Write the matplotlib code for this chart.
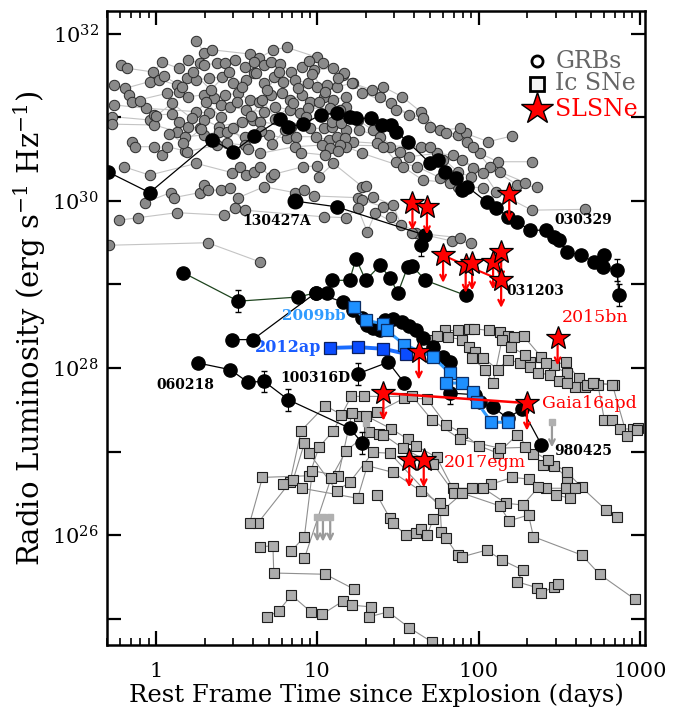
import numpy as np
import matplotlib.pyplot as plt
from matplotlib.ticker import FixedLocator, FuncFormatter, NullLocator, NullFormatter, LogLocator

plt.rcParams['font.family'] = ['DejaVu Serif']
plt.rcParams['mathtext.fontset'] = 'dejavuserif'

# ---- data (log10 of rest-frame days, log10 of L_nu in erg/s/Hz) ----
# background GRB light curves (grey circles)
grb_bg_logt = [
    [0.25, 0.30, 0.35, 0.58, 0.64, 0.725, 0.81, 1.0, 1.035, 1.16, 1.28, 1.46, 1.57, 1.70, 1.87, 1.92, 2.06, 2.21],
    [-0.22, -0.18, -0.02, 0.04, 0.14, 0.20, 0.27, 0.30, 0.38, 0.43, 0.49, 0.55, 0.61, 0.67, 0.71, 0.77, 0.84, 0.905,
     0.95, 0.98, 1.10, 1.165, 1.22, 1.34, 1.41, 1.525, 1.64, 1.76, 1.885, 1.93, 2.01, 2.12, 2.33],
    [-0.26, -0.19, -0.04, 0.02, 0.13, 0.19, 0.25, 0.33, 0.41, 0.48, 0.56, 0.61, 0.67, 0.73, 0.79, 0.86, 0.94, 1.0,
     1.06, 1.12, 1.215, 1.39, 1.49, 1.655, 1.80, 1.965, 2.07, 2.24, 2.36],
    [-0.17, -0.15, 0.07, 0.14, 0.20, 0.30, 0.36, 0.43, 0.51, 0.58, 0.64, 0.71, 0.78, 0.83, 0.905, 0.955, 1.04, 1.10,
     1.18, 1.18, 1.25, 1.345, 1.45, 1.57, 1.74, 1.84, 1.965, 2.13, 2.29],
    [-0.26, -0.06, 0.25, 0.33, 0.40, 0.46, 0.56, 0.67, 0.74, 0.83, 0.89, 0.94, 1.08, 1.14, 1.26, 1.39, 1.51, 1.64,
     1.78, 1.90, 2.03, 2.11, 2.33, 2.66],
    [-0.27, -0.04, -0.01, 0.10, 0.14, 0.20, 0.27, 0.30, 0.39, 0.53, 0.60, 0.645, 0.84, 0.955, 1.04, 1.09, 1.18, 1.22,
     1.37, 1.41, 1.49, 1.62, 1.76, 1.87, 2.03],
    [-0.27, -0.01, 0.13, 0.18, 0.30, 0.39, 0.44, 0.55, 0.70, 0.81, 0.87, 0.99, 1.07, 1.12, 1.17, 1.18, 1.28, 1.53,
     1.655, 1.82],
    [-0.15, -0.13, -0.01, 0.04, 0.07, 0.18, 0.19, 0.38, 0.44, 0.55, 0.645, 0.86, 1.03, 1.08, 1.14, 1.70, 1.87, 1.95],
    [-0.20, -0.04, 0.25, 0.47, 0.52, 0.56, 0.61, 0.645, 0.71, 0.73, 0.91, 1.0, 1.01, 1.10, 1.28, 1.30, 1.345, 1.47, 1.52],
    [-0.07, 0.09, 0.11, 0.27, 0.30, 0.32, 0.40, 0.46, 0.51, 0.67, 0.86, 0.92, 0.98, 1.25, 1.28, 1.41, 1.46, 1.61,
     1.835, 1.95],
    [-0.23, -0.11, 0.13, 0.42, 0.49, 0.55, 1.04, 1.18, 1.25, 1.31, 1.36, 1.59, 1.885],
    [-0.29, 0.32, 0.645],
    [0.05, 0.16, 0.23, 0.34, 0.45, 0.53, 0.62, 0.69, 0.76, 0.88, 0.97, 1.05, 1.13],
    [-0.10, 0.0, 0.10, 0.22, 0.31, 0.40, 0.50, 0.59, 0.66, 0.74, 0.85, 0.93, 1.01, 1.09, 1.15],
    [0.08, 0.17, 0.28, 0.36, 0.48, 0.57, 0.65, 0.72, 0.80, 0.90, 1.05, 1.13],
]
grb_bg_logL = [
    [31.92, 31.77, 31.81, 31.76, 31.71, 31.81, 31.84, 31.72, 31.65, 31.51, 31.29, 31.17, 31.03, 30.89, 30.79, 30.81, 30.71, 30.78],
    [31.63, 31.59, 31.545, 31.66, 31.59, 31.69, 31.65, 31.63, 31.65, 31.65, 31.69, 31.60, 31.66, 31.63, 31.66, 31.64, 31.545, 31.60,
     31.68, 31.57, 31.59, 31.53, 31.41, 31.33, 31.365, 31.25, 31.07, 30.85, 30.87, 30.71, 30.57, 30.47, 30.47],
    [31.39, 31.35, 31.43, 31.45, 31.39, 31.47, 31.45, 31.47, 31.485, 31.41, 31.45, 31.53, 31.41, 31.485, 31.43, 31.45, 31.41, 31.365,
     31.39, 31.365, 31.41, 31.25, 31.09, 30.99, 30.81, 30.65, 30.41, 30.19, 30.17],
    [31.27, 31.19, 31.29, 31.31, 31.25, 31.27, 31.23, 31.27, 31.29, 31.21, 31.19, 31.27, 31.29, 31.21, 31.27, 31.19, 31.25, 31.21,
     31.25, 31.13, 30.97, 30.85, 30.65, 30.53, 30.57, 30.55, 30.40, 30.35, 30.22],
    [31.15, 31.11, 31.07, 31.05, 31.15, 31.13, 31.09, 31.07, 31.13, 31.09, 31.05, 31.11, 31.11, 31.09, 30.85, 30.77, 30.59, 30.65,
     30.49, 30.49, 30.34, 30.11, 29.89, 29.90],
    [31.01, 30.97, 31.03, 31.04, 30.95, 30.89, 30.87, 30.97, 30.89, 30.95, 30.97, 30.95, 30.89, 30.87, 30.87, 30.89, 30.85, 30.71,
     30.69, 30.65, 30.47, 30.41, 30.28, 30.17, 30.16],
    [30.92, 30.91, 30.83, 30.77, 30.79, 30.83, 30.83, 30.77, 30.79, 30.75, 30.77, 30.77, 30.73, 30.77, 30.75, 30.65, 30.57, 30.41,
     30.25, 30.22],
    [30.71, 30.65, 30.65, 30.55, 30.65, 30.60, 30.59, 30.67, 30.69, 30.67, 30.57, 30.65, 30.67, 30.63, 30.67, 30.65, 30.35, 30.29],
    [30.41, 30.31, 30.45, 30.34, 30.41, 30.31, 30.35, 30.41, 30.29, 30.32, 30.41, 30.42, 30.29, 30.45, 30.17, 30.18, 30.05, 29.95, 29.71],
    [29.98, 30.10, 30.04, 30.10, 30.19, 30.13, 30.13, 30.16, 30.04, 30.17, 30.10, 30.13, 30.06, 30.04, 30.01, 29.93, 29.81, 29.62,
     29.52, 29.50],
    [29.77, 29.80, 29.86, 29.83, 29.92, 29.89, 29.81, 29.80, 29.92, 29.63, 29.86, 29.62, 29.56],
    [29.47, 29.50, 29.27],
    [31.50, 31.36, 31.54, 31.33, 31.55, 31.36, 31.53, 31.33, 31.55, 31.35, 31.52, 31.30, 31.47],
    [31.20, 31.02, 31.17, 30.99, 31.19, 31.00, 31.18, 31.02, 31.21, 30.98, 31.17, 31.00, 31.18, 30.95, 30.93],
    [30.80, 30.70, 30.86, 30.72, 30.87, 30.62, 30.84, 30.68, 30.85, 30.58, 30.55, 30.60],
]

# named GRBs (black circles)
grb030329_logt = [-0.30, -0.04, 0.35, 0.48, 0.61, 0.77, 0.82, 0.91, 1.02, 1.12, 1.20, 1.24, 1.33, 1.40, 1.46, 1.49, 1.56,
                  1.70, 1.75, 1.79, 1.86, 1.90, 1.93, 2.05, 2.11, 2.18, 2.24, 2.32, 2.42, 2.47, 2.50, 2.55, 2.635, 2.715,
                  2.78, 2.77, 2.86, 2.87]
grb030329_logL = [30.35, 30.10, 30.73, 30.59, 30.78, 30.98, 30.89, 30.92, 31.03, 31.05, 31.01, 30.99, 30.99, 30.91, 30.91,
                  30.83, 30.71, 30.45, 30.49, 30.35, 30.28, 30.13, 30.17, 29.99, 29.92, 29.81, 29.75, 29.65, 29.65, 29.57,
                  29.53, 29.39, 29.35, 29.27, 29.35, 29.21, 29.17, 28.87]
grb130427A_logt = [0.86, 1.12, 1.67, 1.64]
grb130427A_logL = [30.0, 29.93, 29.59, 29.47]
grb031203_logt = [0.17, 0.51, 0.88, 0.99, 1.06, 1.09, 1.20, 1.24, 1.30, 1.39, 1.45, 1.50, 1.56, 1.59, 1.67, 1.92]
grb031203_logL = [29.14, 28.80, 28.85, 28.90, 28.90, 29.05, 29.05, 29.31, 29.05, 29.23, 29.08, 28.90, 29.21, 29.22, 29.05, 28.87]
grb980425_logt = [0.47, 0.60, 0.99, 1.16, 1.22, 1.28, 1.31, 1.345, 1.39, 1.42, 1.47, 1.525, 1.57, 1.61, 1.655, 1.72, 1.78,
                  1.82, 1.82, 1.98, 2.01, 2.09, 2.18, 2.27, 2.39]
grb980425_logL = [28.34, 28.34, 28.90, 28.79, 28.69, 28.60, 28.52, 28.48, 28.45, 28.57, 28.59, 28.55, 28.50, 28.45, 28.36,
                  28.25, 28.13, 28.07, 27.70, 27.68, 27.59, 27.53, 27.40, 27.51, 27.08]
grb060218_logt = [0.26, 0.46, 0.57, 0.67, 0.82, 1.20, 1.28]
grb060218_logL = [28.06, 27.98, 27.83, 27.84, 27.62, 27.28, 27.10]
grb100316D_logt = [1.25, 1.44, 1.54]
grb100316D_logL = [27.93, 28.07, 27.82]

# relativistic Ic SNe
sn2009bb_logt = [1.23, 1.30, 1.41, 1.43, 1.54, 1.72, 1.82, 1.80, 1.90, 1.965, 1.99, 2.08, 2.18]
sn2009bb_logL = [28.73, 28.57, 28.53, 28.45, 28.28, 28.13, 27.94, 27.82, 27.82, 27.71, 27.59, 27.35, 27.35]
sn2012ap_logt = [1.08, 1.25, 1.41, 1.55]
sn2012ap_logL = [28.24, 28.25, 28.23, 28.17]

# ordinary Ic SNe (grey squares)
ic_logt = [
    [0.63, 0.83, 0.90, 1.05, 1.15, 1.26, 1.37, 1.54, 1.68, 1.80, 1.90, 2.0, 2.12, 2.24, 2.34, 2.40, 2.47, 2.55],
    [0.58, 0.66, 0.95, 1.01, 1.10, 1.21, 1.29, 1.59, 1.71, 1.885, 2.13, 2.29, 2.43, 2.55, 2.64, 2.79, 2.86],
    [0.84, 0.92, 0.97, 1.13, 1.215, 1.30, 1.46, 1.56, 1.61, 1.74, 1.84, 1.96, 2.08, 2.21, 2.31, 2.42, 2.54, 2.60],
    [0.92, 1.085, 1.18, 1.32, 1.38, 1.41, 1.53, 1.72, 1.85, 2.03, 2.17, 2.275, 2.37, 2.48, 2.57],
    [0.79, 0.85, 0.92, 0.95, 1.12, 1.20, 1.345, 1.45, 1.78, 1.90, 2.13, 2.19, 2.31, 2.34, 2.64, 2.75, 2.97],
    [0.905, 1.25, 1.31, 1.47, 1.64, 1.76, 1.77, 1.80, 1.87, 1.90, 2.05, 2.145, 2.275, 2.24, 2.36, 2.39, 2.47, 2.49],
    [0.645, 0.725, 0.73, 1.05, 1.23],
    [0.69, 0.76, 0.84, 0.96, 1.03, 1.16, 1.215, 1.33, 1.32, 1.44, 1.57, 1.71],
    [1.37, 1.45, 1.47, 1.55, 1.61, 1.64, 1.68, 1.72],
    [1.72, 1.79, 1.87, 1.94, 1.97, 2.065, 2.13, 2.18, 2.22, 2.28, 2.39, 2.47, 2.54, 2.62, 2.715, 2.84],
    [1.74, 1.81, 1.90, 1.94, 1.98, 2.03, 2.12, 2.18, 2.26, 2.32, 2.42, 2.55, 2.60, 2.66, 2.74, 2.78, 2.83, 2.88, 2.96, 2.99],
    [1.96, 2.04, 2.09, 2.145, 2.20, 2.29, 2.32, 2.37, 2.44, 2.50, 2.55, 2.67, 2.71, 2.83, 2.92, 2.98],
]
ic_logL = [
    [26.14, 26.63, 27.25, 27.55, 27.44, 27.43, 27.47, 27.64, 27.63, 27.32, 27.22, 27.07, 26.98, 27.20, 26.97, 26.84, 26.83, 26.68],
    [26.14, 26.69, 26.71, 27.05, 27.25, 27.66, 27.66, 27.66, 27.38, 27.15, 27.04, 27.05, 26.90, 26.75, 26.57, 26.30, 26.22],
    [25.81, 25.98, 26.77, 26.71, 27.46, 27.43, 27.27, 27.15, 27.07, 26.93, 26.56, 26.56, 26.61, 26.69, 26.67, 26.56, 26.56, 26.56],
    [25.72, 26.68, 27.01, 27.23, 27.21, 27.20, 27.04, 26.85, 26.50, 26.56, 26.38, 26.36, 26.57, 26.48, 26.44],
    [26.61, 26.66, 27.10, 26.98, 26.53, 26.63, 26.99, 26.98, 26.30, 26.50, 26.35, 26.17, 26.24, 25.98, 25.76, 25.53, 25.23],
    [26.56, 26.44, 26.83, 26.75, 26.53, 26.38, 26.04, 25.96, 25.76, 25.74, 25.82, 25.70, 25.58, 25.44, 25.37, 25.31, 25.38, 25.41],
    [25.86, 25.87, 25.545, 25.53, 25.35],
    [25.02, 25.09, 25.28, 25.08, 25.05, 25.21, 25.16, 25.14, 25.02, 25.08, 24.89, 24.72],
    [26.48, 26.20, 26.14, 26.0, 26.02, 26.07, 26.0, 26.19],
    [28.34, 28.45, 28.45, 28.47, 28.47, 28.45, 28.43, 28.38, 28.37, 28.38, 28.13, 28.04, 28.07, 27.88, 27.82, 27.80],
    [28.38, 28.37, 28.34, 28.25, 28.19, 28.12, 27.98, 28.10, 28.06, 28.07, 28.06, 27.94, 27.77, 27.77, 27.80, 27.38, 27.38,
     27.27, 27.27, 27.28],
    [28.12, 27.98, 27.82, 28.34, 28.25, 28.16, 28.01, 27.94, 27.92, 27.84, 27.82, 27.80, 27.82, 27.80, 27.19, 27.26],
]
ic_ul_logt = [1.30, 1.0, 1.035, 1.08, 2.455]
ic_ul_logL = [27.34, 26.22, 26.22, 26.22, 27.35]

# SLSNe upper limits (red stars)
slsn_logt = [1.59, 1.68, 2.19, 1.78, 1.92, 1.96, 2.09, 2.14, 2.14, 2.49, 1.63, 1.41, 2.30, 1.57, 1.66]
slsn_logL = [29.98, 29.93, 30.08, 29.35, 29.23, 29.26, 29.27, 29.39, 29.05, 28.36, 28.19, 27.70, 27.58, 26.90, 26.90]
slsn_track_logt = [1.78, 1.92, 2.14]
slsn_track_logL = [29.35, 29.23, 29.05]
gaia16apd_logt = [1.41, 2.30]
gaia16apd_logL = [27.70, 27.58]


def lin(a):
    return 10 ** np.asarray(a, dtype=float)


fig = plt.figure(figsize=(6.85, 7.13), dpi=100)
ax = fig.add_axes([107 / 685, 68 / 713, 538 / 685, 634 / 713])
ax.set_xscale('log')
ax.set_yscale('log')

# grey GRB cloud
for lt, lL in zip(grb_bg_logt, grb_bg_logL):
    ax.plot(lin(lt), lin(lL), '-', color='#c4c4c4', lw=0.8, zorder=1)
for lt, lL in zip(grb_bg_logt, grb_bg_logL):
    ax.plot(lin(lt), lin(lL), 'o', ls='none', ms=7.5, mfc='#8a8a8a', mec='#2a2a2a', mew=0.7, zorder=2)

# Ic SNe
for lt, lL in zip(ic_logt, ic_logL):
    ax.plot(lin(lt), lin(lL), '-', color='#8f8f8f', lw=0.8, zorder=1)
for lt, lL in zip(ic_logt, ic_logL):
    ax.plot(lin(lt), lin(lL), 's', ls='none', ms=6.8, mfc='#acacac', mec='#1e1e1e', mew=0.8, zorder=2)
for t, L in zip(lin(ic_ul_logt), lin(ic_ul_logL)):
    ax.annotate('', xy=(t, L * 10 ** -0.3), xytext=(t, L),
                arrowprops=dict(arrowstyle='->', color='#9a9a9a', lw=1.6, shrinkA=0, shrinkB=0), zorder=2)
ax.plot(lin(ic_ul_logt), lin(ic_ul_logL), 's', ls='none', ms=4.5, mfc='#b0b0b0', mec='#b0b0b0', zorder=2)

# named GRBs
black_curves = [
    (grb030329_logt, grb030329_logL, 'black', [36, 37]),
    (grb130427A_logt, grb130427A_logL, 'black', [3]),
    (grb031203_logt, grb031203_logL, '#1e441e', [1]),
    (grb980425_logt, grb980425_logL, 'black', [18]),
    (grb060218_logt, grb060218_logL, 'black', [3, 4, 6]),
    (grb100316D_logt, grb100316D_logL, 'black', [0]),
]
for lt, lL, col, err in black_curves:
    t, L = lin(lt), lin(lL)
    ax.plot(t, L, '-', color=col, lw=0.9, zorder=3)
    for i in err:
        ax.errorbar(t[i], L[i], yerr=[[L[i] * (1 - 10 ** -0.13)], [L[i] * (10 ** 0.13 - 1)]],
                    fmt='none', ecolor='black', elinewidth=0.8, capsize=2, zorder=3)
    ax.plot(t, L, 'o', ls='none', ms=9.5, mfc='black', mec='black', zorder=3.5)
ax.plot(lin(grb130427A_logt[:1]), lin(grb130427A_logL[:1]), 'o', ms=10.5, color='black', zorder=3.5)

# relativistic SNe
ax.plot(lin(sn2009bb_logt), lin(sn2009bb_logL), '-', color='#2f9bff', lw=2.2, zorder=4)
ax.plot(lin(sn2009bb_logt), lin(sn2009bb_logL), 's', ls='none', ms=9, mfc='#1e90ff', mec='#0b2e66', mew=0.9, zorder=4.5)
ax.plot(lin(sn2012ap_logt), lin(sn2012ap_logL), '-', color='#1a6cff', lw=2.8, zorder=4)
ax.plot(lin(sn2012ap_logt), lin(sn2012ap_logL), 's', ls='none', ms=9, mfc='#0a4cff', mec='#0b1f5e', mew=0.9, zorder=4.5)

# SLSNe
ax.plot(lin(slsn_track_logt), lin(slsn_track_logL), '-', color='red', lw=1.5, zorder=5)
ax.plot(lin(gaia16apd_logt), lin(gaia16apd_logL), '-', color='red', lw=1.8, zorder=5)
for t, L in zip(lin(slsn_logt), lin(slsn_logL)):
    ax.annotate('', xy=(t, L * 10 ** -0.33), xytext=(t, L),
                arrowprops=dict(arrowstyle='->', color='red', lw=1.6, shrinkA=0, shrinkB=0), zorder=5)
ax.plot(lin(slsn_logt), lin(slsn_logL), '*', ls='none', ms=18, mfc='red', mec='black', mew=0.9, zorder=6)

# labels
lab = dict(fontsize=10, fontweight='bold', ha='center', va='center', zorder=7)
ax.text(10 ** 0.75, 10 ** 29.76, '130427A', **lab)
ax.text(10 ** 2.65, 10 ** 29.77, '030329', **lab)
ax.text(10 ** 2.35, 10 ** 28.92, '031203', **lab)
ax.text(10 ** 0.18, 10 ** 27.80, '060218', **lab)
ax.text(10 ** 0.99, 10 ** 27.88, '100316D', **lab)
ax.text(10 ** 2.65, 10 ** 27.01, '980425', **lab)
ax.text(10 ** 0.98, 10 ** 28.62, '2009bb', color='#2f9bff', fontsize=11, fontweight='bold', ha='center', va='center')
ax.text(10 ** 0.82, 10 ** 28.24, '2012ap', color='#1a5cff', fontsize=11.5, fontweight='bold', ha='center', va='center')
red = dict(color='red', fontsize=12.5, ha='center', va='center', zorder=7)
ax.text(10 ** 2.72, 10 ** 28.60, '2015bn', **red)
ax.text(10 ** 2.69, 10 ** 27.58, 'Gaia16apd', **red)
ax.text(10 ** 2.04, 10 ** 26.87, '2017egm', **red)

# legend
ax.plot([0.799], [0.921], 'o', transform=ax.transAxes, ms=8, mfc='white', mec='black', mew=2, zorder=8)
ax.plot([0.799], [0.885], 's', transform=ax.transAxes, ms=10, mfc='#f3f3f3', mec='black', mew=2, zorder=8)
ax.plot([0.799], [0.845], '*', transform=ax.transAxes, ms=24, mfc='red', mec='black', mew=1, zorder=8)
ax.text(0.833, 0.921, 'GRBs', transform=ax.transAxes, color='#666666', fontsize=17, va='center')
ax.text(0.833, 0.885, 'Ic SNe', transform=ax.transAxes, color='#666666', fontsize=17, va='center')
ax.text(0.833, 0.845, 'SLSNe', transform=ax.transAxes, color='red', fontsize=17, va='center')

# axes
ax.set_xlim(10 ** -0.304, 10 ** 3.032)
ax.set_ylim(10 ** 24.683, 10 ** 32.275)
ax.xaxis.set_major_locator(FixedLocator([1, 10, 100, 1000]))
ax.xaxis.set_major_formatter(FuncFormatter(lambda v, p: f'{v:g}'))
ax.xaxis.set_minor_locator(LogLocator(base=10, subs=np.arange(2, 10), numticks=20))
ax.xaxis.set_minor_formatter(NullFormatter())
ax.yaxis.set_major_locator(FixedLocator([10.0 ** k for k in range(25, 33)]))
ax.yaxis.set_major_formatter(FuncFormatter(
    lambda v, p: f'$10^{{{int(round(np.log10(v)))}}}$' if int(round(np.log10(v))) % 2 == 0 else ''))
ax.yaxis.set_minor_locator(NullLocator())
ax.tick_params(which='both', direction='in', top=True, right=True, labelsize=15)
ax.tick_params(which='major', length=10, width=1.6)
ax.tick_params(which='minor', length=5, width=1.2)
ax.tick_params(axis='x', pad=12)
ax.tick_params(axis='y', pad=6)
for s in ax.spines.values():
    s.set_linewidth(1.8)

ax.set_xlabel('Rest Frame Time since Explosion (days)', fontsize=17.5, labelpad=2)
ax.set_ylabel('Radio Luminosity (erg s$^{-1}$ Hz$^{-1}$)', fontsize=21, labelpad=3)

fig.savefig('out.png', dpi=100)
